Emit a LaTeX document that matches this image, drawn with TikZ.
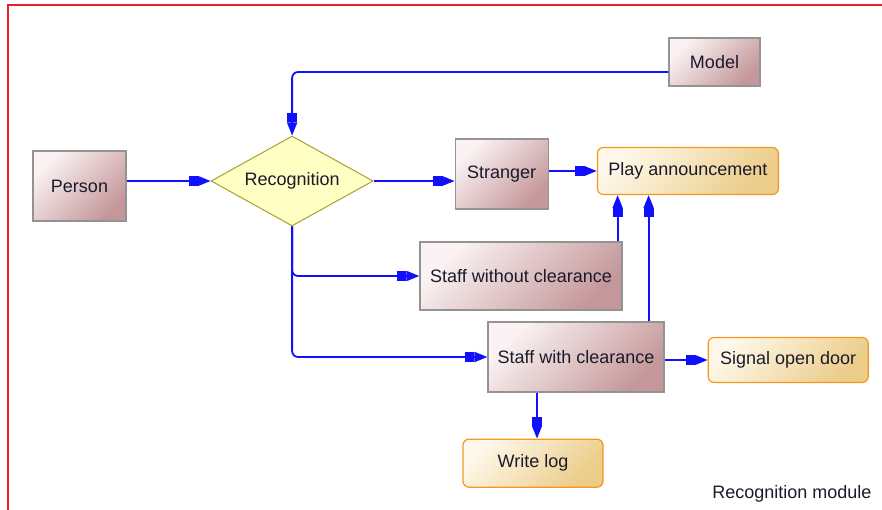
\documentclass[tikz,border=0pt]{standalone}
\usepackage{fontspec}
\setmainfont{Liberation Sans}
\usepackage{xcolor}
\usepackage{tikz}
\usetikzlibrary{calc, positioning, arrows.meta, shapes.geometric}

\definecolor{procdark}{HTML}{C4979A}
\definecolor{proclight}{HTML}{FBF3F3}
\definecolor{actdark}{HTML}{EBCC88}
\definecolor{actlight}{HTML}{FEF8EA}
\definecolor{actborder}{HTML}{F8961E}
\definecolor{decfill}{HTML}{FFFFC4}
\definecolor{decborder}{HTML}{A8A030}
\definecolor{flowblue}{HTML}{1010FF}
\definecolor{framered}{HTML}{E8202A}
\definecolor{txt}{HTML}{1A1A2A}

\begin{document}
\begin{tikzpicture}[
  x=1pt, y=1pt,
  font=\fontsize{18pt}{20pt}\selectfont, text=txt,
  proc/.style={draw=gray!85, line width=1.2pt, top color=proclight, bottom color=procdark, shading angle=45, align=center, minimum width=93pt, minimum height=70pt},
  action/.style={draw=actborder, line width=1.2pt, rounded corners=6pt, top color=actlight, bottom color=actdark, shading angle=45, align=center, minimum height=47pt},
  decision/.style={diamond, aspect=1.8, inner sep=0pt, draw=decborder, line width=1pt, fill=decfill, minimum width=162pt, minimum height=90pt},
  flow/.style={-{Rectangle[length=9pt,width=10pt]Triangle[length=13pt,width=10pt]}, draw=flowblue, line width=1.8pt, rounded corners=6pt}
]
\useasboundingbox (0,0) rectangle (882,-510);

% frame
\draw[framered, line width=1.5pt] (8,-510) -- (8,-5) -- (882,-5);

\node[proc] (person) at (79.5,-186) {Person};
\node[decision, right=84pt of person, yshift=5pt] (recog) {Recognition};
\node[proc, right=81pt of recog, yshift=7pt] (stranger) {Stranger};
\node[action, right=48pt of stranger, yshift=3pt, minimum width=181pt] (play) {Play announcement};
\node[proc, minimum width=91pt, minimum height=48pt] (model) at (714.5,-62) {Model};
\node[proc, minimum width=202pt, minimum height=68pt] (staffno) at (521,-276) {Staff without clearance};
\node[proc, minimum width=176pt] (staffyes) at (576,-357) {Staff with clearance};
\node[action, right=43pt of staffyes, yshift=-3pt, minimum width=160pt, minimum height=45pt] (signal) {Signal open door};
\node[action, below=46pt of staffyes, xshift=-43pt, minimum width=140pt, minimum height=48pt] (writelog) {Write log};
\node[anchor=base east] (caption) at (875,-498) {Recognition module};

\draw[flow] ([yshift=-10pt]model.west) -| (recog.north);
\draw[flow] (person.east |- recog.west) -- (recog.west);
\draw[flow] (recog.east) -- (recog.east -| stranger.west);
\draw[flow] (stranger.east |- play.west) -- (play.west);
\draw[flow] (recog.south) |- (staffno.west);
\draw[flow] (recog.south) |- (staffyes.west);
\draw[flow] ([xshift=-5pt]staffno.north east) -- ([xshift=-5pt]staffno.north east |- play.south);
\draw[flow] ([xshift=-16pt]staffyes.north east) -- ([xshift=-16pt]staffyes.north east |- play.south);
\draw[flow] (staffyes.east |- signal.west) -- (signal.west);
\draw[flow] ([xshift=4pt]writelog.north |- staffyes.south) -- ([xshift=4pt]writelog.north);

\end{tikzpicture}
\end{document}
